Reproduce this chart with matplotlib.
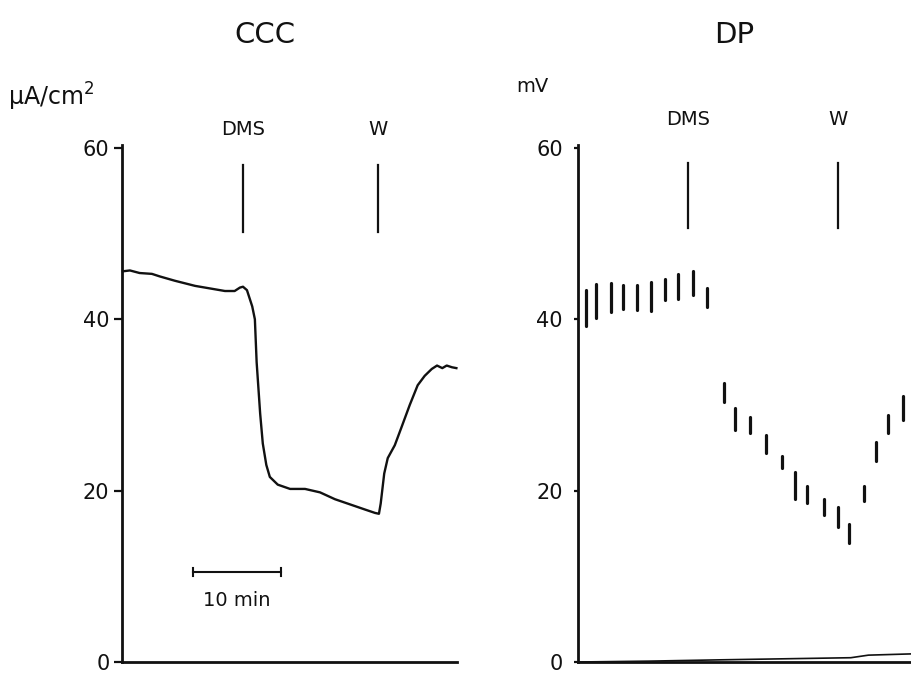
import matplotlib
matplotlib.use("Agg")
import matplotlib.pyplot as plt

# CCC trace (short-circuit current), time in minutes
ccc_t = [0.1, 0.9, 2.0, 3.4, 4.3, 6.0, 8.3, 10.0, 11.7, 12.8, 13.4, 13.75, 14.2,
         14.8, 15.1, 15.3, 15.7, 16.0, 16.4, 16.8, 17.7, 19.1, 20.8, 22.5, 24.2,
         25.9, 27.6, 28.75, 29.2, 29.4, 29.8, 30.2, 31.0, 31.8, 32.7, 33.6, 34.4,
         35.2, 35.8, 36.4, 36.9, 37.5, 38.0]
ccc_val = [45.6, 45.7, 45.4, 45.3, 45.0, 44.5, 43.9, 43.6, 43.3, 43.3, 43.7, 43.8, 43.4,
           41.5, 40.0, 35.0, 29.0, 25.5, 23.0, 21.6, 20.7, 20.2, 20.2, 19.8, 19.0,
           18.4, 17.8, 17.4, 17.3, 18.5, 22.0, 23.8, 25.3, 27.5, 30.0, 32.3, 33.4,
           34.2, 34.6, 34.3, 34.6, 34.4, 34.3]

# DP pulses: time, top and bottom of each deflection (mV)
dp_t = [0.9, 2.05, 3.75, 5.1, 6.7, 8.3, 9.9, 11.4, 13.1, 14.7,
        16.6, 17.8, 19.5, 21.4, 23.2, 24.7, 26.0, 28.0, 29.5, 30.8,
        32.5, 33.9, 35.2, 36.9]
dp_top = [43.4, 44.1, 44.2, 44.0, 44.0, 44.3, 44.7, 45.3, 45.6, 43.6,
          32.6, 29.6, 28.6, 26.5, 24.1, 22.2, 20.5, 19.0, 18.1, 16.1,
          20.6, 25.7, 28.8, 31.0]
dp_bottom = [39.2, 40.2, 40.9, 41.2, 41.1, 41.0, 42.2, 42.4, 42.8, 41.4,
             30.4, 27.1, 26.7, 24.4, 22.7, 19.0, 18.5, 17.2, 15.7, 13.9,
             18.8, 23.5, 26.7, 28.3]

# DP baseline trace
base_t = [0, 8, 16, 25, 31, 33, 38]
base_val = [0, 0.1, 0.25, 0.4, 0.5, 0.8, 0.95]

yticks = [0, 20, 40, 60]
ink = "#111111"

fig = plt.figure(figsize=(9.12, 6.76), dpi=100)
fig.patch.set_facecolor("white")

axL = fig.add_axes([122 / 912, 14 / 676, 335 / 912, 517.5 / 676])
axR = fig.add_axes([578 / 912, 14 / 676, 334 / 912, 517.5 / 676])

for ax in (axL, axR):
    ax.set_ylim(0, 60.4)
    ax.spines["top"].set_visible(False)
    ax.spines["right"].set_visible(False)
    ax.spines["left"].set_linewidth(2)
    ax.spines["bottom"].set_linewidth(2)
    ax.spines["left"].set_color(ink)
    ax.spines["bottom"].set_color(ink)
    ax.set_xticks([])
    ax.set_yticks(yticks)
    ax.tick_params(axis="y", direction="out", length=6, width=1.6, colors=ink,
                   labelsize=15, pad=3)
    ax.set_facecolor("none")

axL.set_xlim(0, 38.07)
axR.set_xlim(0, 37.95)
axR.tick_params(axis="y", length=3, pad=8)

# CCC panel
axL.plot(ccc_t, ccc_val, color=ink, lw=1.7, clip_on=False)
axL.text(16.25, 73.2, "CCC", ha="center", va="center", fontsize=21, color=ink)
axL.text(-13, 66.0, "µA/cm$^2$", ha="left", va="center", fontsize=17, color=ink)
for t, lab in [(13.75, "DMS"), (29.1, "W")]:
    axL.text(t, 62.1, lab, ha="center", va="center", fontsize=14, color=ink)
    axL.plot([t, t], [50.2, 58.0], color=ink, lw=1.6, clip_on=False)

# scale bar
axL.plot([8.07, 18.07], [10.5, 10.5], color=ink, lw=1.5)
axL.plot([8.07, 8.07], [10.0, 11.0], color=ink, lw=1.5)
axL.plot([18.07, 18.07], [10.0, 11.0], color=ink, lw=1.5)
axL.text(13.07, 7.2, "10 min", ha="center", va="center", fontsize=14, color=ink)

# DP panel
axR.vlines(dp_t, dp_bottom, dp_top, color=ink, lw=2.3, capstyle="round")
axR.plot(base_t, base_val, color=ink, lw=1.2, clip_on=False)
axR.text(17.8, 73.2, "DP", ha="center", va="center", fontsize=21, color=ink)
axR.text(-7, 67.2, "mV", ha="left", va="center", fontsize=14, color=ink)
for t, lab in [(12.5, "DMS"), (29.5, "W")]:
    axR.text(t, 63.3, lab, ha="center", va="center", fontsize=14, color=ink)
    axR.plot([t, t], [50.6, 58.2], color=ink, lw=1.6, clip_on=False)

fig.savefig("out.png", dpi=100, facecolor="white")
